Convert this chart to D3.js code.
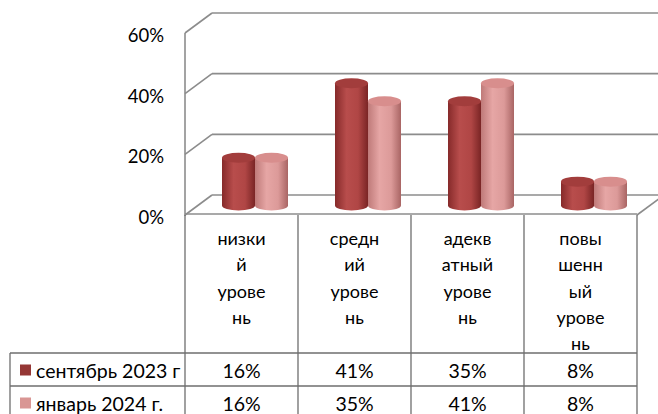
<!DOCTYPE html>
<html><head><meta charset="utf-8">
<script src="https://cdn.jsdelivr.net/npm/d3@7"></script>
<style>
html,body{margin:0;padding:0;background:#fff;}
svg{display:block;font-family:Lato,"Open Sans",sans-serif;}
</style></head>
<body>
<svg id="c" width="658" height="414"></svg>
<script>
const categories = [["низки","й","урове","нь"],["средн","ий","урове","нь"],["адекв","атный","урове","нь"],["повы","шенн","ый","урове","нь"]];
const seriesNames = ["сентябрь 2023 г","январь 2024 г."];
const sep2023 = [16,41,35,8];
const jan2024 = [16,35,41,8];
const yTicks = [0,20,40,60];
const colors = ["#953735","#D99694"];

const svg = d3.select("#c");
const DX = 27, DY = -20;
const x0 = 185, x1 = 637;
const y = d3.scaleLinear().domain([0,60]).range([215,33]);
const x = d3.scaleBand().domain(d3.range(categories.length)).range([x0,x1]);
const grid = "#8c8c8c";

// gradients
const defs = svg.append("defs");
const gdefs = [
  {id:"g0", stops:[[0,"#862a2a"],[0.35,"#b84d4c"],[0.7,"#b04645"],[1,"#7a2525"]]},
  {id:"g1", stops:[[0,"#bf7a79"],[0.35,"#e6a6a5"],[0.7,"#dc9a99"],[1,"#a96564"]]}
];
gdefs.forEach(g=>{
  const lg = defs.append("linearGradient").attr("id",g.id).attr("x1","0").attr("x2","1").attr("y1","0").attr("y2","0");
  g.stops.forEach(s=>lg.append("stop").attr("offset",s[0]).attr("stop-color",s[1]));
});
const tops = ["#a23d3c","#d88e8d"];

// back wall gridlines and left wall diagonals
yTicks.forEach(t=>{
  const yf = y(t);
  svg.append("line").attr("x1",x0).attr("y1",yf).attr("x2",x0+DX).attr("y2",yf+DY)
    .attr("stroke",grid).attr("stroke-width",1.6);
  svg.append("line").attr("x1",x0+DX).attr("y1",yf+DY).attr("x2",658).attr("y2",yf+DY)
    .attr("stroke",grid).attr("stroke-width",1.6);
  svg.append("text").attr("x",164).attr("y",yf+2).attr("text-anchor","end")
    .attr("dominant-baseline","central").attr("font-size",18.5).attr("fill","#000").text(t+"%");
});
// left axis
svg.append("line").attr("x1",x0).attr("y1",y(60)).attr("x2",x0).attr("y2",y(0)+1).attr("stroke",grid).attr("stroke-width",1.6);
// floor front and right edge
svg.append("line").attr("x1",x0).attr("y1",y(0)-1).attr("x2",x1).attr("y2",y(0)-1).attr("stroke",grid).attr("stroke-width",1.4);
svg.append("line").attr("x1",x1).attr("y1",y(0)).attr("x2",x1+DX).attr("y2",y(0)+DY).attr("stroke",grid).attr("stroke-width",1.6);

// cylinders
const W = 33, RY = 5;
const base = 205.5, k = 2.98;
const series = [sep2023, jan2024];
categories.forEach((c,i)=>{
  const cx = x(i) + x.bandwidth()/2 + DX/2;
  series.forEach((vals,s)=>{
    const left = cx - W + s*W;
    const rx = W/2, mx = left + rx;
    const yt = base - vals[i]*k;
    const g = svg.append("g");
    g.append("path")
      .attr("d",`M${left},${yt} L${left},${base} A${rx},${RY} 0 0 0 ${left+W},${base} L${left+W},${yt} Z`)
      .attr("fill",`url(#g${s})`);
    g.append("ellipse").attr("cx",mx).attr("cy",yt).attr("rx",rx).attr("ry",RY).attr("fill",tops[s]);
  });
});

// table
const tc = "#6e6e6e";
const rowTop = 353, rowH = 33;
for (let i=0;i<=categories.length;i++){
  const xx = i<categories.length ? x(i) : x1;
  svg.append("line").attr("x1",xx).attr("y1",y(0)).attr("x2",xx).attr("y2",414).attr("stroke",tc).attr("stroke-width",1.3);
}
svg.append("line").attr("x1",10).attr("y1",rowTop).attr("x2",10).attr("y2",414).attr("stroke",tc).attr("stroke-width",1.3);
[rowTop,rowTop+rowH,rowTop+2*rowH].forEach(yy=>{
  svg.append("line").attr("x1",10).attr("y1",yy).attr("x2",x1).attr("y2",yy).attr("stroke",tc).attr("stroke-width",1.3);
});
// category labels
categories.forEach((c,i)=>{
  const cx = x(i)+x.bandwidth()/2;
  c.forEach((ln,j)=>{
    svg.append("text").attr("x",cx).attr("y",238+j*26.3).attr("text-anchor","middle")
      .attr("dominant-baseline","central").attr("font-size",18).attr("fill","#000").text(ln);
  });
});
// rows
seriesNames.forEach((nm,s)=>{
  const cy = rowTop + rowH*s + rowH/2 + 1;
  svg.append("rect").attr("x",20).attr("y",cy-6).attr("width",11).attr("height",11).attr("fill",colors[s]);
  svg.append("text").attr("x",36).attr("y",cy).attr("dominant-baseline","central")
    .attr("font-size",19.5).attr("fill","#000").text(nm);
  series[s].forEach((v,i)=>{
    svg.append("text").attr("x",x(i)+x.bandwidth()/2).attr("y",cy).attr("text-anchor","middle")
      .attr("dominant-baseline","central").attr("font-size",19.5).attr("fill","#000").text(v+"%");
  });
});
</script>
</body></html>
